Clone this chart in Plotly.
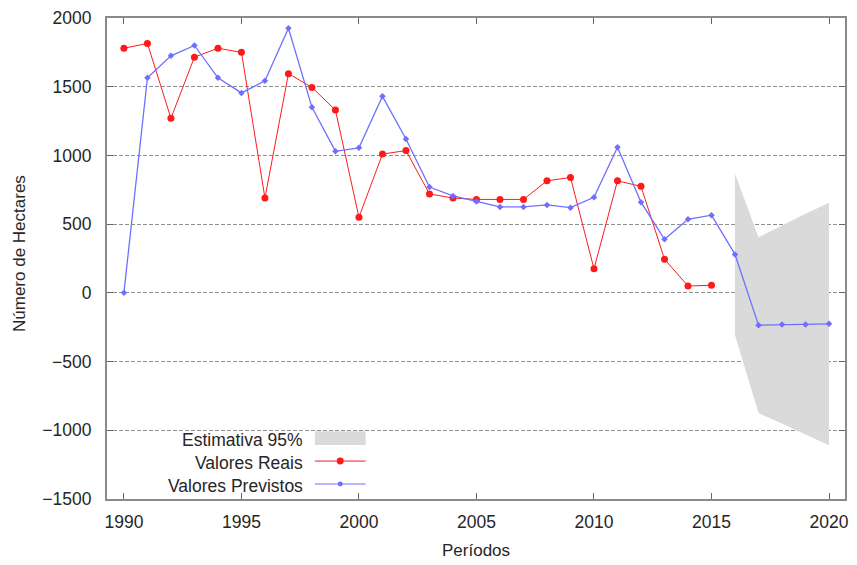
import plotly.graph_objects as go

# Yearly series (hectares)
years_real = list(range(1990, 2016))
valores_reais = [1780, 1815, 1270, 1715, 1780, 1750, 690, 1595, 1495, 1330,
                 550, 1010, 1035, 720, 690, 680, 680, 680, 815, 840,
                 175, 815, 775, 245, 50, 55]

years_prev = list(range(1990, 2021))
valores_previstos = [0, 1565, 1725, 1800, 1565, 1455, 1543, 1925, 1350, 1030,
                     1055, 1430, 1120, 770, 705, 665, 625, 625, 640, 620,
                     695, 1060, 660, 390, 535, 565, 280, -235, -230, -230, -225]

# 95% interval for the forecast horizon
years_band = [2016, 2017, 2018, 2019, 2020]
band_upper = [867, 405, 490, 575, 655]
band_lower = [-309, -875, -950, -1030, -1108]

x_ticks = [1990, 1995, 2000, 2005, 2010, 2015, 2020]
y_ticks = [-1500, -1000, -500, 0, 500, 1000, 1500, 2000]

FONT = "Liberation Sans, Arial, sans-serif"
TXT = "#262626"
RED = "#ff1a1a"
BLUE = "#6f6fff"
BAND = "#dadada"
FS = 17.5

fig = go.Figure()

fig.add_trace(go.Scatter(
    x=years_band + years_band[::-1],
    y=band_upper + band_lower[::-1],
    fill="toself", fillcolor=BAND, mode="none",
    hoverinfo="skip", showlegend=False,
))

fig.add_trace(go.Scatter(
    x=years_real, y=valores_reais, mode="lines+markers",
    line=dict(color=RED, width=1),
    marker=dict(color=RED, size=7),
    showlegend=False,
))

fig.add_trace(go.Scatter(
    x=years_prev, y=valores_previstos, mode="lines+markers",
    line=dict(color=BLUE, width=1.3),
    marker=dict(color=BLUE, size=5, symbol="diamond"),
    showlegend=False,
))

L, R, T, B = 107, 8, 17, 66
W, H = 857, 565
pw, ph = W - L - R, H - T - B


def px(x):
    return (x - L) / pw


def py(y):
    return (H - B - y) / ph


shapes = []
# white panel behind the key
shapes.append(dict(type="rect", xref="paper", yref="paper",
                   x0=px(108), x1=px(373), y0=py(497), y1=py(424),
                   fillcolor="white", line=dict(width=0), layer="between"))
# key samples
shapes.append(dict(type="rect", xref="paper", yref="paper",
                   x0=px(316), x1=px(367), y0=py(445), y1=py(431),
                   fillcolor=BAND, line=dict(width=0), layer="above"))
for yy, col, r in [(461, RED, 3.5), (484, BLUE, 2.5)]:
    shapes.append(dict(type="line", xref="paper", yref="paper",
                       x0=px(316), x1=px(367), y0=py(yy), y1=py(yy),
                       line=dict(color=col, width=1), layer="above"))
    shapes.append(dict(type="circle", xref="paper", yref="paper",
                       x0=px(341.5 - r), x1=px(341.5 + r),
                       y0=py(yy + r), y1=py(yy - r),
                       fillcolor=col, line=dict(width=0), layer="above"))

annotations = []
for yy, txt in [(440, "Estimativa 95%"), (463, "Valores Reais"),
                (486, "Valores Previstos")]:
    annotations.append(dict(xref="paper", yref="paper", x=px(306), y=py(yy),
                            text=txt, showarrow=False, xanchor="right",
                            yanchor="middle",
                            font=dict(family=FONT, size=FS, color=TXT)))
annotations.append(dict(xref="paper", yref="paper", x=px(478), y=py(551),
                        text="Períodos", showarrow=False,
                        xanchor="center", yanchor="middle",
                        font=dict(family=FONT, size=17, color=TXT)))
annotations.append(dict(xref="paper", yref="paper", x=px(19), y=py(253),
                        text="Número de Hectares", showarrow=False,
                        textangle=-90, xanchor="center", yanchor="middle",
                        font=dict(family=FONT, size=17, color=TXT)))

fig.update_layout(
    width=W, height=H,
    margin=dict(l=L, r=R, t=T, b=B),
    paper_bgcolor="white", plot_bgcolor="white",
    font=dict(family=FONT, size=FS, color=TXT),
    shapes=shapes, annotations=annotations,
    showlegend=False,
)

fig.update_xaxes(
    range=[1989.28, 2020.68], tickvals=x_ticks,
    showgrid=False, zeroline=False,
    showline=True, linecolor="#8a8a8a", linewidth=2, mirror="allticks",
    ticks="inside", ticklen=6, tickcolor="#666666", tickwidth=1,
    ticklabelstandoff=6,
    tickfont=dict(family=FONT, size=FS, color=TXT),
)
fig.update_yaxes(
    range=[-1500, 2000], tickvals=y_ticks,
    showgrid=True, gridcolor="#8f8f8f", griddash="4px,2px", gridwidth=1,
    zeroline=False,
    showline=True, linecolor="#8a8a8a", linewidth=2, mirror="allticks",
    ticks="inside", ticklen=6, tickcolor="#666666", tickwidth=1,
    ticklabelstandoff=10,
    tickfont=dict(family=FONT, size=FS, color=TXT),
)

fig.write_html("out.html")
